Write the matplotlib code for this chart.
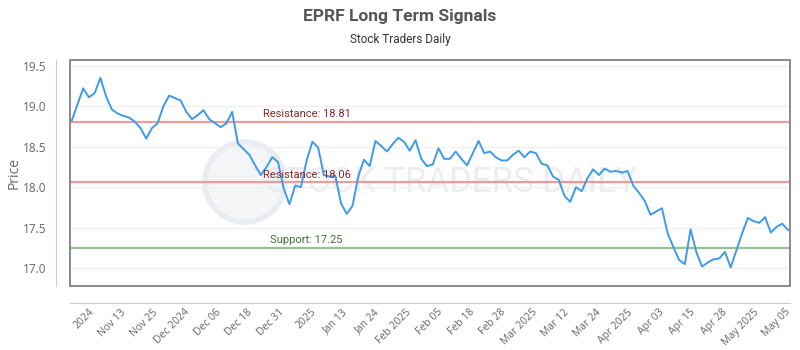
import numpy as np
import matplotlib
matplotlib.use("Agg")
import matplotlib.pyplot as plt
from matplotlib.patches import Ellipse, Rectangle

# closing prices, one per trading day (Nov 2024 - May 2025)
prices = [
    18.82, 19.02, 19.22, 19.11, 19.16, 19.35, 19.12, 18.96, 18.91, 18.88,
    18.86, 18.81, 18.73, 18.60, 18.73, 18.79, 19.00, 19.13, 19.10, 19.07,
    18.93, 18.84, 18.89, 18.95, 18.84, 18.79, 18.74, 18.79, 18.93, 18.54,
    18.47, 18.40, 18.27, 18.15, 18.25, 18.37, 18.31, 17.98, 17.79, 18.02,
    18.00, 18.33, 18.56, 18.49, 18.15, 18.13, 18.14, 17.80, 17.67, 17.77,
    18.13, 18.34, 18.26, 18.57, 18.51, 18.44, 18.53, 18.61, 18.56, 18.45,
    18.58, 18.35, 18.26, 18.28, 18.48, 18.35, 18.35, 18.44, 18.35, 18.27,
    18.42, 18.57, 18.42, 18.44, 18.37, 18.33, 18.33, 18.40, 18.45, 18.37,
    18.44, 18.42, 18.29, 18.27, 18.13, 18.09, 17.89, 17.82, 18.00, 17.95,
    18.11, 18.22, 18.15, 18.23, 18.19, 18.20, 18.18, 18.20, 18.02, 17.93,
    17.83, 17.66, 17.70, 17.74, 17.43, 17.26, 17.10, 17.05, 17.48, 17.20,
    17.02, 17.07, 17.11, 17.12, 17.20, 17.01, 17.22, 17.43, 17.62, 17.58,
    17.56, 17.63, 17.44, 17.51, 17.55, 17.47,
]

tick_labels = ["2024", "Nov 13", "Nov 25", "Dec 2024", "Dec 06", "Dec 18",
               "Dec 31", "2025", "Jan 13", "Jan 24", "Feb 2025", "Feb 05",
               "Feb 18", "Feb 28", "Mar 2025", "Mar 12", "Mar 24", "Apr 2025",
               "Apr 03", "Apr 15", "Apr 28", "May 2025", "May 05"]

resistance = [18.81, 18.06]
support = [17.25]

x = np.arange(len(prices))

fig = plt.figure(figsize=(8, 3.5), dpi=100)
ax = fig.add_axes([70 / 800, 64 / 350, 720 / 800, 226 / 350])

# offset axis lines first (set_position resets the ticks)
ax.spines["top"].set_visible(False)
ax.spines["right"].set_visible(False)
ax.spines["left"].set_position(("outward", 10))
ax.spines["bottom"].set_position(("outward", 12))
ax.spines["left"].set_color("#cccccc")
ax.spines["bottom"].set_color("#cccccc")
ax.add_patch(Rectangle((0, 0), 1, 1, transform=ax.transAxes, fill=False,
                       edgecolor="#777777", lw=1.2, clip_on=False, zorder=5))

# watermark
ax.add_patch(Ellipse((0.243, 0.46), 80 / 720, 80 / 226,
                     transform=ax.transAxes, facecolor="#f3f5f7",
                     edgecolor="#e9edf1", lw=4, zorder=0))
ax.text(0.53, 0.46, "STOCK TRADERS DAILY", transform=ax.transAxes,
        ha="center", va="center", fontsize=25, color="#ebeef1",
        family="Roboto", zorder=0)

ax.plot(x, prices, color="#3d9be9", lw=1.4, zorder=3)

for r in resistance:
    ax.axhline(r, color="#f19a9a", lw=1.6, zorder=2)
    ax.text(41, r + 0.03, f"Resistance: {r:.2f}", ha="center", va="bottom",
            fontsize=8, color="#8b2a2a", family="Roboto", zorder=4)
for s in support:
    ax.axhline(s, color="#96c193", lw=1.6, zorder=2)
    ax.text(41, s + 0.03, f"Support: {s:.2f}", ha="center", va="bottom",
            fontsize=8, color="#3f6e34", family="Roboto", zorder=4)

ax.set_xlim(-0.3, len(prices) - 0.65)
ax.set_ylim(16.78, 19.57)
yt = [17.0, 17.5, 18.0, 18.5, 19.0, 19.5]
ax.set_yticks(yt)
ax.set_yticklabels([f"{v:.1f}" for v in yt], family="Open Sans")
ax.set_xticks(np.linspace(3, 124.5, len(tick_labels)))
ax.set_xticklabels(tick_labels, rotation=45, ha="right",
                   rotation_mode="anchor", family="Open Sans")
ax.grid(axis="y", color="#f0f0f0", lw=1)
ax.set_axisbelow(True)

ax.tick_params(axis="y", length=0, pad=7, labelsize=8.5, labelcolor="#666666")
ax.tick_params(axis="x", length=0, pad=3, labelsize=7.5, labelcolor="#666666")

ax.set_ylabel("Price", fontsize=10, color="#666666", family="Open Sans")
ax.yaxis.set_label_coords(-48 / 720, 0.5)

fig.text(0.5, 1 - 16 / 350, "EPRF Long Term Signals", ha="center",
         va="center", fontsize=12.5, fontweight="bold", color="#555555",
         family="Roboto")
fig.text(0.5, 1 - 40 / 350, "Stock Traders Daily", ha="center",
         va="center", fontsize=8.5, color="#333333", family="Roboto")

fig.savefig("out.png", dpi=100)
